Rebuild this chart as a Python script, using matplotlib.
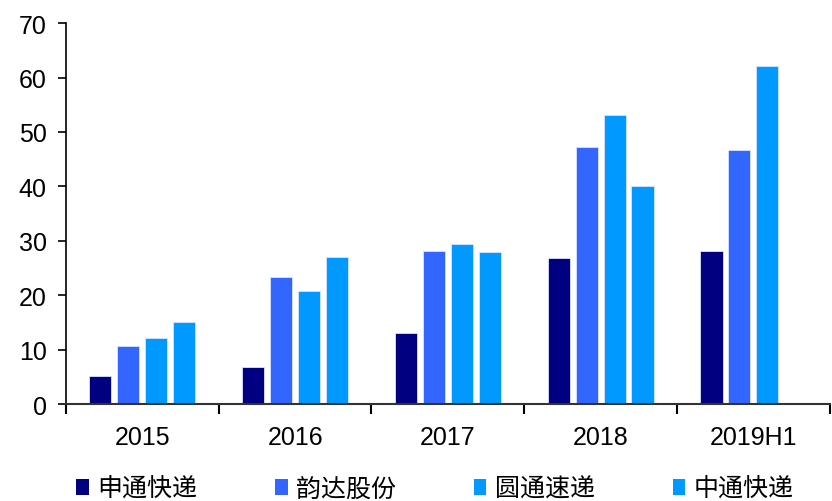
import numpy as np
import matplotlib.pyplot as plt
from matplotlib.patches import Patch

plt.rcParams['font.family'] = ['Liberation Sans', 'Noto Sans CJK SC', 'DejaVu Sans']

# periods on the x axis
periods = ['2015', '2016', '2017', '2018', '2019H1']

# series values (2019H1 has no figure for the fourth company)
sto = [5.1, 6.9, 13.0, 26.8, 28.2]
yunda = [10.6, 23.3, 28.2, 47.2, 46.6]
yto = [12.1, 20.8, 29.4, 53.2, 62.2]
zto = [15.0, 27.0, 28.0, 40.0, np.nan]

series_names = ['申通快递', '韵达股份', '圆通速递', '中通快递']
series_colors = ['#000080', '#3366FF', '#0099FF', '#0099FF']

fig = plt.figure(figsize=(8.32, 5.02), dpi=100)
ax = fig.add_axes([0.0793, 0.193, 0.918, 0.759])

x = np.arange(len(periods))
bw = 0.145
pitch = 0.183
offsets = (np.arange(4) - 1.5) * pitch
for vals, off, col in zip([sto, yunda, yto, zto], offsets, series_colors):
    ax.bar(x + off, vals, width=bw, color=col, edgecolor='#d8e4ff', linewidth=0.6)

ax.set_xlim(-0.5, len(periods) - 0.5)
ax.set_ylim(0, 70)
ax.set_yticks(range(0, 71, 10))

# category separators as ticks, labels centred between them
ax.set_xticks(np.arange(len(periods) + 1) - 0.5)
ax.set_xticklabels([])
ax.set_xticks(x, minor=True)
ax.set_xticklabels(periods, minor=True)
ax.tick_params(axis='x', which='major', direction='out', length=7, width=1.5)
ax.tick_params(axis='x', which='minor', length=0, pad=15, labelsize=18)
ax.tick_params(axis='y', direction='out', length=6, width=1.2, labelsize=18, pad=8)

for side in ['top', 'right']:
    ax.spines[side].set_visible(False)
ax.spines['left'].set_linewidth(1.2)
ax.spines['bottom'].set_linewidth(1.5)
ax.spines['bottom'].set_color('#333333')

handles = [Patch(facecolor=c, edgecolor='none') for c in series_colors]
fig.legend(handles, series_names, loc='center', bbox_to_anchor=(0.523, 0.024),
           ncol=4, frameon=False, handlelength=0.5, handleheight=0.6,
           handletextpad=0.35, columnspacing=3.1,
           prop={'family': ['Noto Sans CJK SC', 'DejaVu Sans'], 'size': 18})

fig.savefig('out.png', dpi=100)
